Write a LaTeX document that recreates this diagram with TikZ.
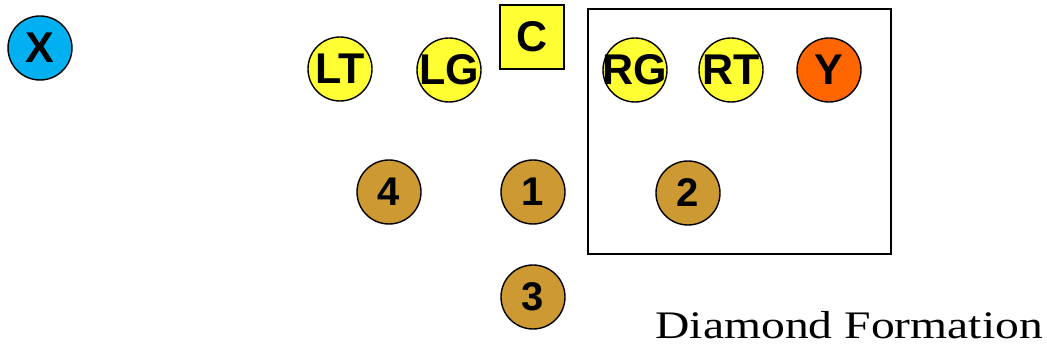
\documentclass[tikz,border=0pt]{standalone}
\usepackage{fontspec}
\setmainfont{Liberation Serif}
\setsansfont{Liberation Sans}
\definecolor{pyellow}{HTML}{FFFF33}
\definecolor{pblue}{HTML}{00B0F0}
\definecolor{porange}{HTML}{FF6600}
\definecolor{pgold}{HTML}{CC9933}
\newcommand\ptxt[1]{\makebox[0pt]{#1}}
\tikzset{
  player/.style={circle, draw=black, line width=1.4pt, minimum size=64pt, inner sep=0pt,
    font=\fontsize{43}{43}\selectfont\sffamily\bfseries},
  lineman/.style={player, fill=pyellow},
  back/.style={player, fill=pgold, font=\fontsize{40}{40}\selectfont\sffamily\bfseries},
  center/.style={rectangle, draw=black, line width=1.4pt, fill=pyellow, minimum width=64pt, minimum height=64pt, inner sep=0pt,
    font=\fontsize{43}{43}\selectfont\sffamily\bfseries},
  zonebox/.style={draw=black, line width=1.4pt}
}
\begin{document}
\begin{tikzpicture}[x=1pt,y=-1pt]
\useasboundingbox (0,0) rectangle (1047,352);
\draw[zonebox] (588,9) rectangle (891,254);
\node[player, fill=pblue] (x) at (40,48) {\ptxt{X}};
\node[lineman] (lt) at (340,69) {\ptxt{LT}};
\node[lineman] (lg) at (449,70) {\ptxt{LG}};
\node[center] (c) at (532,37) {\ptxt{C}};
\node[lineman] (rg) at (635,70) {\ptxt{RG}};
\node[lineman] (rt) at (731,70) {\ptxt{RT}};
\node[player, fill=porange] (y) at (829,70) {\ptxt{Y}};
\node[back] (b4) at (389,192) {\ptxt{4}};
\node[back] (b1) at (533,192) {\ptxt{1}};
\node[back] (b2) at (688,193) {\ptxt{2}};
\node[back] (b3) at (533,297) {\ptxt{3}};
\node[anchor=base east, inner sep=0pt, font=\fontsize{39}{39}\selectfont] (title) at (1043,339) {\scalebox{1.22}[1]{Diamond Formation}};
\end{tikzpicture}
\end{document}
